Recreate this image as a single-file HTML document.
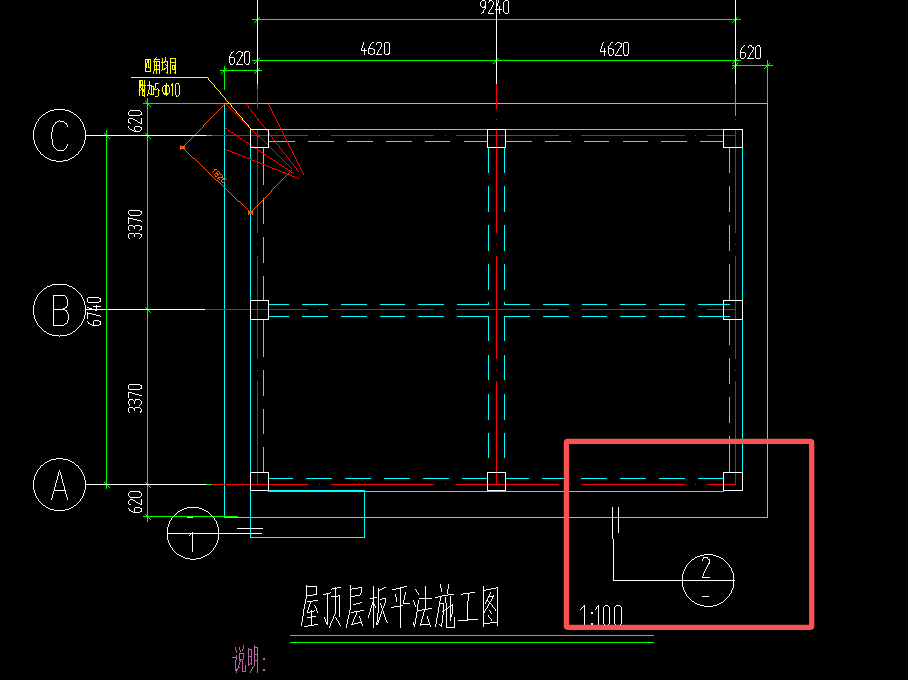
<!DOCTYPE html>
<html><head><meta charset="utf-8"><title>CAD</title>
<style>
html,body{margin:0;padding:0;background:#000;overflow:hidden;font-family:"Liberation Sans",sans-serif}
svg{display:block}
</style></head><body>
<svg width="908" height="680" viewBox="0 0 908 680">
<rect width="908" height="680" fill="#000"/>
<g fill="none" stroke-width="1" shape-rendering="crispEdges" stroke-linecap="butt">
<path d="M224 103.5L768 103.5" stroke="#00ffff"/>
<path d="M224.5 103L224.5 517" stroke="#00ffff"/>
<path d="M767.5 103L767.5 518" stroke="#00ffff"/>
<path d="M224 517.5L768 517.5" stroke="#00ffff"/>
<path d="M268 129.5L723 129.5" stroke="#00ffff"/>
<path d="M250.5 147L250.5 538" stroke="#00ffff"/>
<path d="M742.5 147L742.5 472" stroke="#00ffff"/>
<path d="M268 491.5L724 491.5" stroke="#00ffff"/>
<path d="M250 490.5L365 490.5" stroke="#00ffff"/>
<path d="M364.5 490L364.5 538" stroke="#00ffff"/>
<path d="M250 537.5L365 537.5" stroke="#00ffff"/>
<path d="M269 141.5H294.8M307.9 141.5H333.7M346.8 141.5H372.6M385.7 141.5H411.5M424.6 141.5H450.4M463.5 141.5H487.5M505.8 141.5H531.6M544.7 141.5H570.5M583.6 141.5H609.4M622.5 141.5H648.3M661.4 141.5H687.2M700.3 141.5H723.4" stroke="#00ffff"/>
<path d="M269 478.5H293.3M306.4 478.5H332.2M345.3 478.5H371.1M384.2 478.5H410M423.1 478.5H448.9M462 478.5H487.5M505.9 478.5H529.3M542.4 478.5H568.2M581.3 478.5H607.1M620.2 478.5H646M659.1 478.5H684.9M698 478.5H723.8" stroke="#00ffff"/>
<path d="M268.7 304.5H288.5M302.4 304.5H327.9M341 304.5H366.6M379.7 304.5H405.3M418.3 304.5H443.9M456.9 304.5H488.6M504.4 304.5H530M542.9 304.5H568.5M581.5 304.5H607.1M620.1 304.5H645.7M658.8 304.5H685M698 304.5H729.5" stroke="#00ffff"/>
<path d="M268.7 316.5H288.5M302.4 316.5H327.9M341 316.5H366.6M379.7 316.5H405.3M418.3 316.5H443.9M456.9 316.5H488.6M504.4 316.5H530M542.9 316.5H568.5M581.5 316.5H607.1M620.1 316.5H645.7M658.8 316.5H685M698 316.5H729.5" stroke="#00ffff"/>
<path d="M263.5 147.5V184.6M263.5 197.8V224.2M263.5 236.6V263.1M263.5 276.4V300.5" stroke="#00ffff"/>
<path d="M263.5 319.6V357M263.5 369.6V395.8M263.5 408.6V434.4M263.5 447V472" stroke="#00ffff"/>
<path d="M729.5 147.4V172.9M729.5 186.2V212M729.5 225V250.9M729.5 264.1V300.5" stroke="#00ffff"/>
<path d="M729.5 319.6V344.9M729.5 358V384M729.5 397.2V423.1M729.5 435.7V472" stroke="#00ffff"/>
<path d="M488.5 147.5V172.6M488.5 185.8V211.5M488.5 225V250.6M488.5 263.7V289.8M488.5 302V304.5M488.5 316.5V341.4M488.5 354.7V380.4M488.5 393.8V419.5M488.5 432.9V458" stroke="#00ffff"/>
<path d="M504.5 147.5V172.6M504.5 185.8V211.5M504.5 225V250.6M504.5 263.7V289.8M504.5 302V304.5M504.5 316.5V341.4M504.5 354.7V380.4M504.5 393.8V419.5M504.5 432.9V458" stroke="#00ffff"/>
<path d="M211.5 135.5H308M330.5 135.5H434M456 135.5H559M581.3 135.5H685M706.5 135.5H735.5" stroke="#ff0000"/>
<rect x="319" y="135" width="1" height="1" fill="#ff0000" stroke="none"/>
<rect x="445" y="135" width="1" height="1" fill="#ff0000" stroke="none"/>
<rect x="570" y="135" width="1" height="1" fill="#ff0000" stroke="none"/>
<rect x="695" y="135" width="1" height="1" fill="#ff0000" stroke="none"/>
<path d="M205 309.5H308M330.5 309.5H434M456 309.5H559M581.3 309.5H685M706.5 309.5H735.5" stroke="#ff0000"/>
<rect x="319" y="309" width="1" height="1" fill="#ff0000" stroke="none"/>
<rect x="445" y="309" width="1" height="1" fill="#ff0000" stroke="none"/>
<rect x="570" y="309" width="1" height="1" fill="#ff0000" stroke="none"/>
<rect x="695" y="309" width="1" height="1" fill="#ff0000" stroke="none"/>
<path d="M211.7 484.5H308M330.5 484.5H434M456 484.5H559M581.3 484.5H685M706.5 484.5H735.5" stroke="#ff0000"/>
<rect x="319" y="484" width="1" height="1" fill="#ff0000" stroke="none"/>
<rect x="445" y="484" width="1" height="1" fill="#ff0000" stroke="none"/>
<rect x="570" y="484" width="1" height="1" fill="#ff0000" stroke="none"/>
<rect x="695" y="484" width="1" height="1" fill="#ff0000" stroke="none"/>
<path d="M257.5 89V108.6M257.5 130V233M257.5 255.8V358.9M257.5 381.3V484.6" stroke="#ff0000"/>
<rect x="257" y="119" width="1" height="1" fill="#ff0000" stroke="none"/>
<rect x="257" y="244" width="1" height="1" fill="#ff0000" stroke="none"/>
<rect x="257" y="370" width="1" height="1" fill="#ff0000" stroke="none"/>
<path d="M496.5 84V108.6M496.5 130V233M496.5 255.8V358.9M496.5 381.3V484.6" stroke="#ff0000"/>
<rect x="496" y="119" width="1" height="1" fill="#ff0000" stroke="none"/>
<rect x="496" y="244" width="1" height="1" fill="#ff0000" stroke="none"/>
<rect x="496" y="370" width="1" height="1" fill="#ff0000" stroke="none"/>
<path d="M735.5 129.5V233M735.5 255.8V358.9M735.5 381.3V484.6" stroke="#ff0000"/>
<rect x="735" y="119" width="1" height="1" fill="#ff0000" stroke="none"/>
<rect x="735" y="244" width="1" height="1" fill="#ff0000" stroke="none"/>
<rect x="735" y="370" width="1" height="1" fill="#ff0000" stroke="none"/>
<path d="M226 104.5h1M227 105.5h1M228 106.5h1M229 107.5h1M230 108.5h1M231 109.5h1M232 110.5h1M233 111.5h1M234 112.5h1M235 113.5h1M236 114.5h1M237 115.5h1M238 116.5h1M239 117.5h1M240 118.5h1M241 119.5h1M242 120.5h1M243 121.5h1M244 122.5h1M245 123.5h1M246 124.5h1M247 125.5h1M248 126.5h1M249 127.5h1M250 128.5h1M251 129.5h1M252 130.5h1M253 131.5h1M254 132.5h1M255 133.5h1M256 134.5h1M257 135.5h1M258 136.5h2M260 137.5h1M261 138.5h1M262 139.5h1M263 140.5h1M264 141.5h1M265 142.5h1M266 143.5h1M267 144.5h1M268 145.5h1M269 146.5h1M270 147.5h1M271 148.5h1M272 149.5h1M273 150.5h1M274 151.5h1M275 152.5h1M276 153.5h1M277 154.5h1M278 155.5h1M279 156.5h1M280 157.5h1M281 158.5h1M282 159.5h1M283 160.5h1M284 161.5h1M285 162.5h1M286 163.5h1M287 164.5h1M288 165.5h1M289 166.5h1M290 167.5h1M291 168.5h1" stroke="#ff0000"/>
<path d="M246.5 104v1M247.5 105v1M248.5 106v2M249.5 108v1M250.5 109v1M251.5 110v2M252.5 112v1M253.5 113v1M254.5 114v1M255.5 115v2M256.5 117v1M257.5 118v1M258.5 119v2M259.5 121v1M260.5 122v1M261.5 123v1M262.5 124v2M263.5 126v1M264.5 127v1M265.5 128v2M266.5 130v1M267.5 131v1M268.5 132v1M269.5 133v2M270.5 135v1M271.5 136v1M272.5 137v2M273.5 139v1M274.5 140v1M275.5 141v2M276.5 143v1M277.5 144v1M278.5 145v1M279.5 146v2M280.5 148v1M281.5 149v1M282.5 150v2M283.5 152v1M284.5 153v1M285.5 154v1M286.5 155v2M287.5 157v1M288.5 158v1M289.5 159v2M290.5 161v1M291.5 162v1M292.5 163v1M293.5 164v2M294.5 166v1M295.5 167v1M296.5 168v2M297.5 170v1M298.5 171v1" stroke="#ff0000"/>
<path d="M268.5 104v1M269.5 105v2M270.5 107v2M271.5 109v2M272.5 111v2M273.5 113v2M274.5 115v2M275.5 117v2M276.5 119v2M277.5 121v2M278.5 123v2M279.5 125v2M280.5 127v2M281.5 129v2M282.5 131v2M283.5 133v2M284.5 135v2M285.5 137v2M286.5 139v2M287.5 141v2M288.5 143v2M289.5 145v2M290.5 147v2M291.5 149v2M292.5 151v2M293.5 153v2M294.5 155v2M295.5 157v2M296.5 159v2M297.5 161v2M298.5 163v2M299.5 165v2M300.5 167v2M301.5 169v2M302.5 171v2M303.5 173v2" stroke="#ff0000"/>
<path d="M225 128.5h2M227 129.5h1M228 130.5h2M230 131.5h1M231 132.5h2M233 133.5h1M234 134.5h2M236 135.5h1M237 136.5h2M239 137.5h1M240 138.5h2M242 139.5h1M243 140.5h2M245 141.5h1M246 142.5h2M248 143.5h1M249 144.5h2M251 145.5h1M252 146.5h2M254 147.5h1M255 148.5h2M257 149.5h1M258 150.5h2M260 151.5h1M261 152.5h2M263 153.5h1M264 154.5h2M266 155.5h1M267 156.5h2M269 157.5h1M270 158.5h2M272 159.5h1M273 160.5h2M275 161.5h1M276 162.5h2M278 163.5h1M279 164.5h2M281 165.5h1M282 166.5h2M284 167.5h1M285 168.5h2M287 169.5h1M288 170.5h2M290 171.5h1M291 172.5h2M293 173.5h1" stroke="#ff0000"/>
<path d="M225 149.5h2M227 150.5h3M230 151.5h2M232 152.5h3M235 153.5h2M237 154.5h3M240 155.5h2M242 156.5h3M245 157.5h2M247 158.5h3M250 159.5h2M252 160.5h3M255 161.5h2M257 162.5h3M260 163.5h2M262 164.5h3M265 165.5h2M267 166.5h3M270 167.5h2M272 168.5h3M275 169.5h2M277 170.5h3M280 171.5h2M282 172.5h3M285 173.5h2M287 174.5h3M290 175.5h2M292 176.5h3M295 177.5h2M297 178.5h2" stroke="#ff0000"/>
<path d="M224.5 104v1M223.5 105v1M222.5 106v1M221.5 107v1M220.5 108v1M219.5 109v1M218.5 110v1M217.5 111v1M216.5 112v1M215.5 113v1M214.5 114v1M213.5 115v1M212.5 116v1M211.5 117v1M210.5 118v1M209.5 119v1M208.5 120v1M207.5 121v1M206.5 122v1M205.5 123v1M204.5 124v1M203.5 125v2M202.5 127v1M201.5 128v1M200.5 129v1M199.5 130v1M198.5 131v1M197.5 132v1M196.5 133v1M195.5 134v1M194.5 135v1M193.5 136v1M192.5 137v1M191.5 138v1M190.5 139v1M189.5 140v1M188.5 141v1M187.5 142v1M186.5 143v1M185.5 144v1M184.5 145v1M183.5 146v1M182.5 147v1M182 147.5h1M183 148.5h1M184 149.5h1M185 150.5h1M186 151.5h1M187 152.5h1M188 153.5h1M189 154.5h1M190 155.5h1M191 156.5h1M192 157.5h1M193 158.5h2M195 159.5h1M196 160.5h1M197 161.5h1M198 162.5h1M199 163.5h1M200 164.5h1M201 165.5h1M202 166.5h1M203 167.5h1M204 168.5h1M205 169.5h1M206 170.5h1M207 171.5h1M208 172.5h1M209 173.5h1M210 174.5h1M211 175.5h1M212 176.5h1M213 177.5h1M214 178.5h1M215 179.5h1M216 180.5h2M218 181.5h1M219 182.5h1M220 183.5h1M221 184.5h1M222 185.5h1M223 186.5h1M224 187.5h1M225 188.5h1M226 189.5h1M227 190.5h1M228 191.5h1M229 192.5h1M230 193.5h1M231 194.5h1M232 195.5h1M233 196.5h1M234 197.5h1M235 198.5h1M236 199.5h1M237 200.5h1M238 201.5h2M240 202.5h1M241 203.5h1M242 204.5h1M243 205.5h1M244 206.5h1M245 207.5h1M246 208.5h1M247 209.5h1M248 210.5h1M249 211.5h1M250 212.5h1M291.5 170v1M290.5 171v1M289.5 172v1M288.5 173v1M287.5 174v1M286.5 175v1M285.5 176v1M284.5 177v1M283.5 178v1M282.5 179v1M281.5 180v1M280.5 181v1M279.5 182v1M278.5 183v1M277.5 184v1M276.5 185v1M275.5 186v1M274.5 187v1M273.5 188v1M272.5 189v1M271.5 190v2M270.5 192v1M269.5 193v1M268.5 194v1M267.5 195v1M266.5 196v1M265.5 197v1M264.5 198v1M263.5 199v1M262.5 200v1M261.5 201v1M260.5 202v1M259.5 203v1M258.5 204v1M257.5 205v1M256.5 206v1M255.5 207v1M254.5 208v1M253.5 209v1M252.5 210v1M251.5 211v1M250.5 212v1" stroke="#f55a00"/>
<path d="M180 146h5v3h-5zM180 145h1v5h-1zM184 145h1v5h-1z" fill="#f55a00" stroke="none"/>
<path d="M248 211h5v3h-5zM248 210h1v5h-1zM252 210h1v5h-1z" fill="#f55a00" stroke="none"/>
<path d="M214 169.5h3M212 172.5h1M213 171.5h1M214 170.5h1M215 169.5h2M218 171.5h1M219 172.5h1M219.5 172v2M218 174.5h1M219 173.5h1M217 174.5h2M217 173.5h1M216.5 172v1M217.5 173v1M216 172.5h1M217 171.5h1M217 171.5h2M215 173.5h3M215.5 173v1M214.5 174v1M215.5 175v1M215.5 175v2M215 176.5h2M216 176.5h1M217 175.5h1M217.5 174v2M220 174.5h2M221.5 174v1M222.5 175v1M222.5 175v2M222.5 176v2M217 178.5h1M218 177.5h5M217 178.5h2M219 179.5h1M224.5 177v1M225.5 178v1M226.5 179v1M222 179.5h1M223 178.5h1M224 177.5h1M222 179.5h2M223.5 179v1M224.5 180v1M224.5 180v2M223 182.5h1M224 181.5h1M222 182.5h2M221 181.5h1M222 182.5h1M221.5 180v2" stroke="#f55a00"/>
<path d="M131 77.5h77M207.5 77v1M208.5 78v2M209.5 80v1M210.5 81v1M211.5 82v1M212.5 83v1M213.5 84v1M214.5 85v2M215.5 87v1M216.5 88v1M217.5 89v1M218.5 90v1M219.5 91v1M220.5 92v2M221.5 94v1M222.5 95v1M223.5 96v1M224.5 97v1M225.5 98v2M226.5 100v1M227.5 101v1M228.5 102v1M229.5 103v1M230.5 104v1M231.5 105v2M232.5 107v1M233.5 108v1M234.5 109v1M235.5 110v1M236.5 111v2M237.5 113v1M238.5 114v1M239.5 115v1M240.5 116v1M241.5 117v1M242.5 118v2M243.5 120v1M244.5 121v1M245.5 122v1M246.5 123v1M247.5 124v1M248.5 125v2M249.5 127v1M250.5 128v1" stroke="#ffff00"/>
<path d="M251.5 19.5L741 19.5" stroke="#00ff00"/>
<path d="M252 60.5L741 60.5" stroke="#00ff00"/>
<path d="M219.5 70.5L262 70.5" stroke="#00ff00"/>
<path d="M731.5 65.5L773 65.5" stroke="#00ff00"/>
<path d="M224.5 65.5L224.5 90" stroke="#00ff00"/>
<path d="M767.5 59.5L767.5 103" stroke="#00ff00"/>
<path d="M257.5 84L257.5 89" stroke="#00ff00"/>
<path d="M735.5 84L735.5 116" stroke="#00ff00"/>
<path d="M143 103.5L224 103.5" stroke="#00ff00"/>
<path d="M147.5 98L147.5 522" stroke="#00ff00"/>
<path d="M106.5 130L106.5 489" stroke="#00ff00"/>
<path d="M143 516.5L238 516.5" stroke="#00ff00"/>
<path d="M206 135.5H211.5" stroke="#00ff00"/>
<path d="M206 484.5H211.7" stroke="#00ff00"/>
<path d="M254 22.5h1M255 21.5h1M256 20.5h1M257 19.5h1M258 18.5h1M259 17.5h1" stroke="#00ff00"/>
<path d="M732 22.5h1M733 21.5h1M734 20.5h1M735 19.5h1M736 18.5h1M737 17.5h1" stroke="#00ff00"/>
<path d="M254 63.5h1M255 62.5h1M256 61.5h1M257 60.5h1M258 59.5h1M259 58.5h1" stroke="#00ff00"/>
<path d="M493 63.5h1M494 62.5h1M495 61.5h1M496 60.5h1M497 59.5h1M498 58.5h1" stroke="#00ff00"/>
<path d="M732 63.5h1M733 62.5h1M734 61.5h1M735 60.5h1M736 59.5h1M737 58.5h1" stroke="#00ff00"/>
<path d="M221 73.5h1M222 72.5h1M223 71.5h1M224 70.5h1M225 69.5h1M226 68.5h1" stroke="#00ff00"/>
<path d="M254 73.5h1M255 72.5h1M256 71.5h1M257 70.5h1M258 69.5h1M259 68.5h1" stroke="#00ff00"/>
<path d="M732 68.5h1M733 67.5h1M734 66.5h1M735 65.5h1M736 64.5h1M737 63.5h1" stroke="#00ff00"/>
<path d="M764 68.5h1M765 67.5h1M766 66.5h1M767 65.5h1M768 64.5h1M769 63.5h1" stroke="#00ff00"/>
<path d="M145 101.5h1M146 102.5h1M147 103.5h1M148 104.5h1M149 105.5h1M150 106.5h1" stroke="#00ff00"/>
<path d="M145 133.5h1M146 134.5h1M147 135.5h1M148 136.5h1M149 137.5h1M150 138.5h1" stroke="#00ff00"/>
<path d="M145 307.5h1M146 308.5h1M147 309.5h1M148 310.5h1M149 311.5h1M150 312.5h1" stroke="#00ff00"/>
<path d="M145 482.5h1M146 483.5h1M147 484.5h1M148 485.5h1M149 486.5h1M150 487.5h1" stroke="#00ff00"/>
<path d="M145 514.5h1M146 515.5h1M147 516.5h1M148 517.5h1M149 518.5h1M150 519.5h1" stroke="#00ff00"/>
<path d="M104 133.5h1M105 134.5h1M106 135.5h1M107 136.5h1M108 137.5h1M109 138.5h1" stroke="#00ff00"/>
<path d="M104 482.5h1M105 483.5h1M106 484.5h1M107 485.5h1M108 486.5h1M109 487.5h1" stroke="#00ff00"/>
<path d="M257.5 0L257.5 84" stroke="#ffffff"/>
<path d="M496.5 0L496.5 84" stroke="#ffffff"/>
<path d="M735.5 0L735.5 84" stroke="#ffffff"/>
<path d="M86 135.5L206 135.5" stroke="#ffffff"/>
<path d="M86 309.5L205 309.5" stroke="#ffffff"/>
<path d="M86 484.5L206 484.5" stroke="#ffffff"/>
<rect x="250.5" y="129.5" width="18" height="18" stroke="#ffffff"/>
<rect x="250.5" y="300.5" width="18" height="19" stroke="#ffffff"/>
<rect x="250.5" y="472.5" width="18" height="18" stroke="#ffffff"/>
<rect x="487.5" y="129.5" width="18" height="18" stroke="#ffffff"/>
<rect x="487.5" y="472.5" width="18" height="18" stroke="#ffffff"/>
<rect x="723.5" y="129.5" width="19" height="18" stroke="#ffffff"/>
<rect x="723.5" y="300.5" width="19" height="19" stroke="#ffffff"/>
<rect x="723.5" y="472.5" width="19" height="18" stroke="#ffffff"/>
<path d="M38 120.5h1M80 120.5h1M37 149.5h1M81 149.5h1M34 129.5h1M84 129.5h1M46 112.5h2M71 112.5h2M51 160.5h5M63 160.5h5M41 154.5h2M76 154.5h2M33 137.5h1M85 137.5h1M49 159.5h2M68 159.5h2M35 145.5h1M83 145.5h1M54 109.5h11M34 141.5h1M84 141.5h1M45 157.5h2M72 157.5h2M34 140.5h1M84 140.5h1M35 124.5h1M83 124.5h1M36 146.5h1M82 146.5h1M48 111.5h2M69 111.5h2M33 130.5h1M85 130.5h1M36 122.5h1M82 122.5h1M33 139.5h1M85 139.5h1M38 119.5h1M80 119.5h1M56 161.5h7M34 143.5h1M84 143.5h1M43 114.5h2M74 114.5h2M50 110.5h4M65 110.5h4M35 126.5h1M83 126.5h1M34 142.5h1M84 142.5h1M33 132.5h1M85 132.5h1M35 144.5h1M83 144.5h1M34 127.5h1M84 127.5h1M36 123.5h1M82 123.5h1M33 134.5h1M85 134.5h1M37 121.5h1M81 121.5h1M33 136.5h1M85 136.5h1M43 155.5h1M75 155.5h1M39 151.5h1M79 151.5h1M37 148.5h1M81 148.5h1M34 128.5h1M84 128.5h1M36 147.5h1M82 147.5h1M42 115.5h1M76 115.5h1M40 152.5h1M78 152.5h1M33 138.5h1M85 138.5h1M44 156.5h1M74 156.5h1M47 158.5h2M70 158.5h2M33 131.5h1M85 131.5h1M40 117.5h1M78 117.5h1M35 125.5h1M83 125.5h1M33 133.5h1M85 133.5h1M38 150.5h1M80 150.5h1M33 135.5h1M85 135.5h1M41 116.5h1M77 116.5h1M40 153.5h1M78 153.5h1M39 118.5h1M79 118.5h1M45 113.5h1M73 113.5h1" stroke="#ffffff"/>
<path d="M43 330.5h1M75 330.5h1M37 296.5h1M81 296.5h1M38 294.5h1M80 294.5h1M38 325.5h1M80 325.5h1M43 289.5h1M75 289.5h1M49 334.5h3M67 334.5h3M37 295.5h1M81 295.5h1M33 310.5h1M85 310.5h1M52 284.5h15M41 291.5h1M77 291.5h1M36 321.5h1M82 321.5h1M52 335.5h7M60 335.5h7M34 315.5h1M84 315.5h1M35 300.5h1M83 300.5h1M33 312.5h1M85 312.5h1M33 313.5h1M85 313.5h1M44 331.5h2M73 331.5h2M40 292.5h1M78 292.5h1M50 285.5h2M67 285.5h2M34 317.5h1M84 317.5h1M42 290.5h1M76 290.5h1M34 316.5h1M84 316.5h1M39 293.5h1M79 293.5h1M46 287.5h1M72 287.5h1M33 305.5h1M85 305.5h1M33 306.5h1M85 306.5h1M36 322.5h1M82 322.5h1M47 333.5h2M70 333.5h2M36 298.5h1M82 298.5h1M44 288.5h2M73 288.5h2M34 301.5h1M84 301.5h1M36 297.5h1M82 297.5h1M34 318.5h1M84 318.5h1M33 307.5h1M85 307.5h1M33 308.5h1M85 308.5h1M37 323.5h1M81 323.5h1M35 320.5h1M83 320.5h1M34 303.5h1M84 303.5h1M34 302.5h1M84 302.5h1M47 286.5h3M69 286.5h3M37 324.5h1M81 324.5h1M34 304.5h1M84 304.5h1M33 314.5h1M85 314.5h1M46 332.5h1M72 332.5h1M35 299.5h1M83 299.5h1M35 319.5h1M83 319.5h1M33 309.5h1M85 309.5h1M33 311.5h1M85 311.5h1M39 326.5h1M79 326.5h1M41 328.5h1M77 328.5h1M40 327.5h1M78 327.5h1M42 329.5h1M76 329.5h1M59 336.5h1" stroke="#ffffff"/>
<path d="M37 470.5h1M81 470.5h1M34 492.5h1M84 492.5h1M48 508.5h2M69 508.5h2M33 482.5h1M85 482.5h1M35 494.5h1M83 494.5h1M33 484.5h1M85 484.5h1M51 459.5h5M63 459.5h5M56 458.5h7M50 509.5h4M65 509.5h4M54 510.5h11M34 477.5h1M84 477.5h1M34 476.5h1M84 476.5h1M36 473.5h1M82 473.5h1M35 474.5h1M83 474.5h1M37 471.5h1M81 471.5h1M33 486.5h1M85 486.5h1M43 505.5h2M74 505.5h2M39 501.5h1M79 501.5h1M37 498.5h1M81 498.5h1M34 478.5h1M84 478.5h1M36 497.5h1M82 497.5h1M46 507.5h2M71 507.5h2M34 491.5h1M84 491.5h1M41 465.5h2M76 465.5h2M41 503.5h1M77 503.5h1M40 502.5h1M78 502.5h1M38 499.5h1M80 499.5h1M36 496.5h1M82 496.5h1M33 488.5h1M85 488.5h1M36 472.5h1M82 472.5h1M45 462.5h2M72 462.5h2M47 461.5h2M70 461.5h2M42 504.5h1M76 504.5h1M43 464.5h1M75 464.5h1M44 463.5h1M74 463.5h1M33 481.5h1M85 481.5h1M35 475.5h1M83 475.5h1M33 483.5h1M85 483.5h1M49 460.5h2M68 460.5h2M34 479.5h1M84 479.5h1M38 469.5h1M80 469.5h1M38 500.5h1M80 500.5h1M33 485.5h1M85 485.5h1M34 490.5h1M84 490.5h1M33 487.5h1M85 487.5h1M40 467.5h1M78 467.5h1M39 468.5h1M79 468.5h1M33 480.5h1M85 480.5h1M35 493.5h1M83 493.5h1M35 495.5h1M83 495.5h1M45 506.5h1M73 506.5h1M33 489.5h1M85 489.5h1M40 466.5h1M78 466.5h1" stroke="#ffffff"/>
<path d="M66.5 123v2M67.5 125v2M63 121.5h1M64 122.5h1M65 123.5h2M59 120.5h1M60 121.5h4M56 122.5h1M57 121.5h2M55.5 122v2M54.5 124v1M53.5 125v1M53.5 125v2M52.5 127v4M52.5 130v2M51.5 132v4M51.5 135v4M52.5 139v3M52.5 141v4M53.5 145v2M53.5 146v1M54.5 147v1M55.5 148v1M56.5 149v1M56 149.5h1M57 150.5h3M59 150.5h5M63 150.5h1M64 149.5h1M65 148.5h1M66 147.5h1M67.5 144v2M66.5 146v2" stroke="#ffffff"/>
<path d="M53.5 295v31M53 325.5h10M62 325.5h2M64 324.5h1M65 323.5h2M68.5 319v1M67.5 320v3M68.5 314v6M66.5 311v1M67.5 312v2M68.5 314v1M62 309.5h3M65 310.5h2M53 309.5h10M62 309.5h1M63 308.5h2M65 307.5h2M67.5 304v2M66.5 306v2M67.5 299v6M65.5 296v1M66.5 297v2M67.5 299v1M62 295.5h3M65 296.5h1M53 295.5h10" stroke="#ffffff"/>
<path d="M59.5 470v2M58.5 472v4M57.5 476v4M56.5 480v3M55.5 483v4M54.5 487v4M53.5 491v3M52.5 494v4M51.5 498v2M60.5 472v3M61.5 475v4M62.5 479v4M63.5 483v3M64.5 486v4M65.5 490v4M66.5 494v3M67.5 497v3M54 490.5h12" stroke="#ffffff"/>
<path d="M177 554.5h2M207 554.5h2M174 551.5h1M211 551.5h1M174 515.5h1M211 515.5h1M179 555.5h2M205 555.5h2M167 530.5h1M218 530.5h1M178 511.5h2M206 511.5h2M181 556.5h2M203 556.5h2M169 523.5h1M216 523.5h1M167 539.5h1M218 539.5h1M173 516.5h1M212 516.5h1M180 510.5h2M204 510.5h2M167 529.5h1M218 529.5h1M182 509.5h2M202 509.5h2M167 538.5h1M218 538.5h1M168 540.5h1M217 540.5h1M171 518.5h1M214 518.5h1M184 508.5h3M199 508.5h3M175 552.5h1M210 552.5h1M167 532.5h1M218 532.5h1M177 512.5h1M208 512.5h1M176 553.5h1M209 553.5h1M172 517.5h1M213 517.5h1M167 531.5h1M218 531.5h1M170 546.5h1M215 546.5h1M187 507.5h12M168 542.5h1M217 542.5h1M169 543.5h1M216 543.5h1M176 513.5h1M209 513.5h1M190 559.5h6M169 522.5h1M216 522.5h1M167 534.5h1M218 534.5h1M185 558.5h5M196 558.5h5M167 533.5h1M218 533.5h1M168 541.5h1M217 541.5h1M173 550.5h1M212 550.5h1M171 547.5h1M214 547.5h1M172 549.5h1M213 549.5h1M167 527.5h1M218 527.5h1M167 536.5h1M218 536.5h1M167 535.5h1M218 535.5h1M168 525.5h1M217 525.5h1M183 557.5h2M201 557.5h2M167 528.5h1M218 528.5h1M170 545.5h1M215 545.5h1M171 519.5h1M214 519.5h1M169 521.5h1M216 521.5h1M170 520.5h1M215 520.5h1M172 548.5h1M213 548.5h1M169 544.5h1M216 544.5h1M168 524.5h1M217 524.5h1M167 537.5h1M218 537.5h1M175 514.5h1M210 514.5h1M168 526.5h1M217 526.5h1" stroke="#ffffff"/>
<path d="M167 533.5L262 533.5" stroke="#ffffff"/>
<path d="M237 528.5L263 528.5" stroke="#ffffff"/>
<path d="M192.5 532v1M191.5 533v1M190.5 534v1M189.5 535v1M192.5 532v20" stroke="#ffffff"/>
<path d="M187 517.5L193 517.5" stroke="#ffffff"/>
<path d="M692 601.5h2M723 601.5h1M690 599.5h1M725 599.5h1M686 595.5h1M729 595.5h1M704 554.5h9M700 605.5h4M713 605.5h4M697 604.5h3M717 604.5h2M682 582.5h1M733 582.5h1M692 559.5h2M723 559.5h1M694 558.5h1M721 558.5h2M704 606.5h9M695 603.5h2M719 603.5h2M683 587.5h1M733 587.5h1M684 569.5h1M731 569.5h1M690 561.5h1M725 561.5h1M695 557.5h2M719 557.5h2M684 591.5h1M731 591.5h1M682 575.5h1M733 575.5h1M700 555.5h4M713 555.5h3M682 584.5h1M733 584.5h1M697 556.5h3M716 556.5h3M685 567.5h1M730 567.5h1M682 577.5h1M733 577.5h1M682 586.5h1M733 586.5h1M686 565.5h1M729 565.5h1M683 571.5h1M732 571.5h1M686 566.5h1M729 566.5h1M682 579.5h1M733 579.5h1M691 600.5h1M724 600.5h1M684 570.5h1M731 570.5h1M687 596.5h1M728 596.5h1M691 560.5h1M724 560.5h1M682 581.5h1M733 581.5h1M694 602.5h1M721 602.5h2M685 592.5h1M731 592.5h1M685 568.5h1M731 568.5h1M688 563.5h1M727 563.5h1M689 562.5h1M726 562.5h1M682 574.5h1M733 574.5h1M689 598.5h1M726 598.5h1M687 564.5h1M728 564.5h1M682 576.5h1M733 576.5h1M683 589.5h1M732 589.5h1M682 580.5h1M734 580.5h1M686 594.5h1M729 594.5h1M688 597.5h1M727 597.5h1M682 583.5h1M733 583.5h1M683 573.5h1M733 573.5h1M684 590.5h1M731 590.5h1M682 585.5h1M733 585.5h1M682 578.5h1M733 578.5h1M685 593.5h1M730 593.5h1M683 588.5h1M732 588.5h1M683 572.5h1M732 572.5h1" stroke="#ffffff"/>
<path d="M613 580.5L735 580.5" stroke="#ffffff"/>
<path d="M612.5 507L612.5 539" stroke="#ffffff"/>
<path d="M613.5 539L613.5 581" stroke="#ffffff"/>
<path d="M618.5 507L618.5 533" stroke="#ffffff"/>
<path d="M703.5 557v2M702.5 559v2M704 557.5h3M707.5 557v2M708.5 559v1M709.5 559v5M708.5 563v2M707.5 565v2M706.5 567v2M705.5 569v2M704.5 571v2M703.5 573v3M702.5 576v2M702 577.5h8" stroke="#ffffff"/>
<path d="M702 596.5L709 596.5" stroke="#ffffff"/>
<path d="M580 609.5h1M581 608.5h1M582 607.5h1M583 606.5h1M584 605.5h1M584.5 605v22M598.5 605v1M597.5 606v1M596.5 607v2M595.5 609v1M598.5 605v22" stroke="#ffffff"/>
<path d="M605 605.5h3M607.5 605v1M608.5 606v1M609.5 607v1M609.5 607v17M609.5 623v1M608.5 624v2M605 625.5h3M603.5 623v1M604.5 624v1M605.5 625v1M603.5 607v17M605.5 605v1M604.5 606v1M603.5 607v1M616 605.5h4M619.5 605v1M620.5 606v1M621.5 607v1M621.5 607v17M621.5 623v1M620.5 624v1M619.5 625v1M616 625.5h4M614.5 623v1M615.5 624v1M616.5 625v1M614.5 607v17M616.5 605v1M615.5 606v1M614.5 607v1" stroke="#ffffff"/>
<rect x="591" y="612" width="2" height="2" fill="#ffffff" stroke="none"/>
<rect x="591" y="623" width="2" height="2" fill="#ffffff" stroke="none"/>
<path d="M484 6.5h1M485 5.5h1M482 7.5h3M480 5.5h1M481 6.5h1M482 7.5h1M480.5 2v4M482.5 0v1M481.5 1v1M480.5 2v1M482 0.5h3M484.5 0v1M485.5 1v2M485.5 2v4M485.5 5v4M485.5 8v1M484.5 9v1M483.5 10v3M481 13.5h1M482 12.5h2M489.5 0v2M488.5 2v1M489 0.5h3M491.5 0v1M492.5 1v1M493.5 2v1M493.5 2v3M493.5 4v1M492.5 5v2M491.5 7v2M490.5 9v1M489.5 10v2M488.5 12v2M488 13.5h6M498.5 0v3M497.5 3v3M496.5 6v3M495.5 9v1M495 9.5h7M499.5 6v8M505 0.5h3M507.5 0v1M508.5 1v2M508.5 2v10M508.5 11v2M507.5 13v1M505 13.5h3M503.5 11v1M504.5 12v1M505.5 13v1M503.5 2v10M505.5 0v1M504.5 1v1M503.5 2v1" stroke="#ffffff"/>
<path d="M363.5 42v3M362.5 45v3M361.5 48v3M361 50.5h6M364.5 48v7M371 43.5h1M372 42.5h2M371.5 43v1M370.5 44v2M369.5 46v2M369.5 47v1M368.5 48v2M368.5 49v5M369.5 53v1M370.5 54v1M370 54.5h3M373.5 53v1M372.5 54v1M374.5 49v5M372 48.5h1M373 49.5h2M370 48.5h3M368 49.5h1M369 48.5h2M377.5 42v1M376.5 43v2M377 42.5h4M380.5 42v1M381.5 43v1M381.5 43v3M381.5 45v2M380.5 47v2M379.5 49v1M378.5 50v2M377.5 52v2M376.5 54v1M376 54.5h6M385 42.5h3M388.5 42v1M389.5 43v1M389.5 43v11M388.5 53v2M385 54.5h3M384.5 53v1M385.5 54v1M384.5 43v11M385.5 42v1M384.5 43v1" stroke="#ffffff"/>
<path d="M603.5 42v1M602.5 43v3M601.5 46v3M600.5 49v3M600 51.5h6M604.5 48v8M610 43.5h1M611 42.5h2M610.5 43v2M609.5 45v1M608.5 46v2M608.5 47v3M608.5 49v5M608.5 53v1M609.5 54v2M609 55.5h3M613.5 53v1M612.5 54v1M611.5 55v1M613.5 49v5M611 48.5h1M612 49.5h2M609 48.5h3M608 49.5h1M609 48.5h1M617.5 42v1M616.5 43v1M615.5 44v1M617 42.5h3M619.5 42v1M620.5 43v1M621.5 43v4M620.5 46v2M619.5 48v1M618.5 49v2M617.5 51v2M616.5 53v1M615.5 54v2M615 55.5h7M624 42.5h4M627.5 42v1M628.5 43v1M628.5 43v11M628.5 53v1M627.5 54v2M624 55.5h4M623.5 53v1M624.5 54v2M623.5 43v11M624.5 42v1M623.5 43v1" stroke="#ffffff"/>
<path d="M231 52.5h2M233 51.5h1M231.5 52v2M230.5 54v2M229.5 56v1M229.5 56v3M229.5 58v5M229.5 62v1M230.5 63v2M230 64.5h3M234.5 62v1M233.5 63v1M232.5 64v1M234.5 58v5M232 57.5h2M234 58.5h1M230 57.5h3M229 58.5h1M230 57.5h1M238.5 51v1M237.5 52v1M236.5 53v1M238 51.5h3M240.5 51v1M241.5 52v1M242.5 52v4M241.5 55v2M240.5 57v2M239.5 59v2M238.5 61v1M237.5 62v2M236.5 64v1M236 64.5h7M246 51.5h3M248.5 51v1M249.5 52v1M249.5 52v11M249.5 62v1M248.5 63v2M246 64.5h3M244.5 62v1M245.5 63v1M246.5 64v1M244.5 52v11M245.5 51v2" stroke="#ffffff"/>
<path d="M742 47.5h1M743 46.5h1M744 45.5h1M742.5 47v1M741.5 48v2M740.5 50v2M740.5 51v3M740.5 53v4M740.5 56v2M741.5 58v1M741 58.5h3M745.5 56v1M744.5 57v1M743.5 58v1M745.5 53v4M743 52.5h2M745 53.5h1M741 52.5h3M740 53.5h1M741 52.5h1M749.5 45v1M748.5 46v2M749 45.5h3M751.5 45v2M752.5 47v1M753.5 47v3M753.5 49v1M752.5 50v2M751.5 52v1M750.5 53v2M749.5 55v2M748.5 57v1M747.5 58v1M747 58.5h7M757 45.5h3M759.5 45v2M760.5 47v1M760.5 47v10M760.5 56v2M759.5 58v1M757 58.5h3M755.5 56v2M756.5 58v1M755.5 47v10M757.5 45v1M756.5 46v1M755.5 47v1" stroke="#ffffff"/>
<path d="M128.5 126v2M129.5 128v1M129 128.5h1M130 129.5h2M132 130.5h2M133 130.5h1M134 131.5h3M136 131.5h4M139 131.5h1M140 130.5h1M141 129.5h1M141.5 127v3M139 126.5h1M140 127.5h2M136 126.5h4M135.5 126v1M134.5 127v1M134.5 127v3M134.5 129v1M135.5 130v1M136.5 131v1M128 122.5h2M130 123.5h1M128.5 119v4M128 119.5h1M129 118.5h2M130 118.5h3M132 118.5h1M133 119.5h2M135 120.5h2M137 121.5h1M138 122.5h2M140 123.5h2M141.5 118v6M128.5 112v3M128 112.5h1M129 111.5h1M130 110.5h1M130 110.5h10M139 110.5h1M140 111.5h1M141 112.5h1M141.5 112v3M139 115.5h1M140 114.5h2M130 115.5h10M128 114.5h1M129 115.5h2" stroke="#ffffff"/>
<path d="M128.5 236v2M129.5 238v1M128.5 234v3M129.5 233v1M128.5 234v1M129 233.5h4M133.5 233v1M134.5 234v1M134.5 234v3M134 234.5h1M135 233.5h1M135 233.5h5M139.5 233v1M140.5 234v1M141.5 234v3M141.5 236v1M140.5 237v1M139.5 238v1M128.5 229v1M129.5 230v1M128.5 226v4M129.5 225v1M128.5 226v1M129 225.5h4M132.5 225v1M133.5 226v1M134.5 226v3M134 226.5h1M135 225.5h1M135 225.5h5M139.5 225v1M140.5 226v1M141.5 226v4M140.5 229v1M139.5 230v1M128.5 217v7M128 217.5h1M129 218.5h4M133 219.5h4M137 220.5h4M141 221.5h1M128.5 211v3M128 211.5h1M129 210.5h2M130 210.5h10M139 210.5h1M140 211.5h2M141.5 211v3M139 215.5h1M140 214.5h1M141 213.5h1M130 215.5h10M128 213.5h1M129 214.5h1M130 215.5h1" stroke="#ffffff"/>
<path d="M128.5 411v1M129.5 412v1M128.5 409v3M129.5 407v1M128.5 408v2M129 407.5h4M132.5 407v1M133.5 408v1M134.5 409v1M134.5 409v2M134 408.5h1M135 407.5h1M135 407.5h5M139.5 407v1M140.5 408v1M141.5 409v1M141.5 409v3M140.5 411v2M128.5 403v1M129.5 404v2M128.5 401v3M129.5 399v2M128.5 401v1M129 399.5h4M132.5 399v1M133.5 400v1M134.5 401v1M134.5 401v3M134 401.5h1M135 400.5h1M135 399.5h5M139.5 399v1M140.5 400v1M141.5 401v1M141.5 401v3M141.5 403v1M140.5 404v1M139.5 405v1M128.5 392v6M128 392.5h4M132 393.5h3M135 394.5h4M139 395.5h3M128.5 385v4M128 385.5h1M129 384.5h2M130 384.5h10M139 384.5h1M140 385.5h2M141.5 385v4M139 389.5h1M140 388.5h2M130 389.5h10M128 388.5h1M129 389.5h2" stroke="#ffffff"/>
<path d="M128.5 508v1M129.5 509v2M129 510.5h2M131 511.5h2M133 512.5h1M133 512.5h4M136 512.5h4M139 512.5h1M140 511.5h2M141.5 508v4M139 507.5h1M140 508.5h2M136 507.5h4M135.5 507v1M134.5 508v1M134.5 508v4M134.5 511v1M135.5 512v1M128 503.5h1M129 504.5h2M128.5 501v3M128 501.5h1M129 500.5h1M130 499.5h1M130 499.5h3M132 499.5h1M133 500.5h2M135 501.5h1M136 502.5h2M138 503.5h2M140 504.5h2M141.5 499v6M128.5 493v3M128 493.5h1M129 492.5h1M130 491.5h1M130 491.5h10M139 492.5h2M141 493.5h1M141.5 493v3M139 497.5h1M140 496.5h1M141 495.5h1M130 497.5h10M128 495.5h1M129 496.5h1M130 497.5h1" stroke="#ffffff"/>
<path d="M87.5 321v1M88.5 322v2M88 323.5h2M90 324.5h2M92 325.5h1M92 325.5h3M94 325.5h5M98 325.5h1M99 324.5h2M100.5 321v4M98 320.5h1M99 321.5h2M94 320.5h5M94.5 320v1M93.5 321v1M93.5 321v4M93.5 324v1M94.5 325v1M87.5 312v7M87 312.5h1M88 313.5h4M92 314.5h4M96 315.5h4M100 316.5h1M87 307.5h2M89 308.5h3M92 309.5h3M95 310.5h2M96.5 305v6M93 306.5h8M87.5 298v4M87 298.5h1M88 297.5h2M89 297.5h10M98 297.5h1M99 298.5h2M100.5 298v4M98 302.5h1M99 301.5h2M89 302.5h10M87 301.5h1M88 302.5h2" stroke="#ffffff"/>
<path d="M290 635.5L654 635.5" stroke="#00ff00"/>
<path d="M290 642.5L654 642.5" stroke="#00ff00"/>
<path d="M306.5 585v13M306.5 597v2M305.5 599v5M304.5 604v2M304.5 605v4M303.5 609v7M302.5 616v6M301.5 622v4M306 586.5h11M316.5 586v9M306 595.5h7M313 594.5h4M307 601.5h6M313 600.5h5M310.5 601v3M309.5 604v3M308.5 607v3M307.5 610v3M307 612.5h3M310 611.5h4M314 610.5h1M314.5 605v1M315.5 606v2M316.5 608v3M317.5 611v2M307 617.5h5M312 616.5h4M311.5 610v16M304 626.5h4M308 625.5h6M314 624.5h4M323 594.5h3M326 593.5h4M330 592.5h1M327.5 593v32M324.5 617v2M325.5 619v3M326.5 622v2M327.5 624v1M331 589.5h1M332 588.5h5M337 587.5h4M335.5 587v26M335.5 612v2M334.5 614v2M333.5 616v3M332.5 619v2M331.5 621v2M330.5 623v3M329.5 626v2M331 596.5h7M338 595.5h2M339.5 595v22M335.5 617v1M336.5 618v2M337.5 620v1M338.5 621v2M339.5 623v2M340.5 625v1M350.5 585v23M350.5 607v3M349.5 610v5M348.5 615v4M347.5 619v5M346.5 624v4M350 589.5h2M352 588.5h6M358 587.5h4M361.5 587v6M361.5 592v1M360.5 593v2M359.5 595v1M350 596.5h5M355 595.5h5M353 604.5h3M356 603.5h4M360 602.5h2M351 612.5h3M354 611.5h6M360 610.5h4M357.5 611v1M356.5 612v3M355.5 615v2M354.5 617v2M353.5 619v3M352.5 622v2M351.5 624v1M351 624.5h3M354 623.5h4M358 622.5h4M359.5 616v2M360.5 618v3M361.5 621v3M362.5 624v2" stroke="#ffffff"/>
<path d="M373.5 586v42M370 598.5h4M374 597.5h3M373.5 600v2M372.5 602v3M371.5 605v3M370.5 608v4M369.5 612v3M368.5 615v3M373.5 602v2M374.5 604v2M375.5 606v2M378.5 588v3M378 590.5h2M380 589.5h2M382 588.5h2M384 587.5h2M378.5 590v21M378.5 610v3M377.5 613v9M376.5 622v3M380 599.5h2M382 598.5h4M385.5 598v3M385.5 600v3M384.5 603v3M383.5 606v2M382.5 608v3M381.5 611v3M380.5 614v3M379.5 617v3M378.5 620v3M377.5 623v2M380.5 603v2M381.5 605v3M383.5 611v3M384.5 614v3M385.5 617v3M386.5 620v2M387.5 622v1M392 589.5h4M396 588.5h4M400 587.5h4M404 586.5h3M395.5 594v3M396.5 597v5M405.5 592v3M404.5 595v5M403.5 600v4M403 603.5h7M391 607.5h3M394 606.5h6M400 605.5h3M400.5 587v41M415.5 589v1M416.5 590v2M417.5 592v1M418.5 593v2M413.5 600v2M414.5 602v3M415.5 605v2M418.5 600v4M417.5 604v7M417.5 610v2M416.5 612v6M415.5 618v6M414.5 624v3M413.5 622v3M414.5 625v2M425.5 586v23M419 598.5h13M417 610.5h5M422 609.5h6M428 608.5h4M424.5 609v3M423.5 612v4M422.5 616v3M421.5 619v4M420.5 623v3M420 625.5h1M421 624.5h8M429 623.5h1M427.5 616v3M428.5 619v3M429.5 622v3M430.5 625v2" stroke="#ffffff"/>
<path d="M440.5 584v4M441.5 588v4M435 597.5h3M438 596.5h4M442 595.5h3M440.5 597v4M439.5 601v5M439.5 605v2M438.5 607v6M437.5 613v5M436.5 618v6M435.5 624v3M439 603.5h5M443.5 603v8M443.5 610v5M442.5 615v8M441.5 623v4M439 624.5h1M440 625.5h1M441 626.5h1M448.5 584v5M447.5 589v5M444 595.5h4M448 594.5h6M445.5 597v6M442 611.5h1M443 610.5h2M445 609.5h1M446 608.5h2M448 607.5h1M449 606.5h2M451 605.5h1M452 604.5h1M452.5 604v9M452.5 612v2M451.5 614v3M450.5 617v2M450.5 596v25M446.5 603v25M446 627.5h9M454.5 617v11M461 594.5h2M463 593.5h7M470 592.5h5M468.5 593v8M467.5 601v20M458 620.5h9M467 619.5h11M483.5 586v41M483 590.5h3M486 589.5h5M491 588.5h5M496 587.5h2M497.5 587v39M483 623.5h7M490 622.5h8M490.5 592v2M489.5 594v2M488.5 596v2M487.5 598v2M486.5 600v2M485.5 602v2M489 596.5h4M493 595.5h1M493.5 595v2M492.5 597v2M491.5 599v2M490.5 601v1M489.5 602v2M488.5 604v2M487.5 606v2M486.5 608v1M485.5 609v2M484.5 611v2M487.5 600v1M488.5 601v1M489.5 602v1M490.5 603v1M491.5 604v1M492.5 605v2M493.5 607v1M494.5 608v1M495.5 609v2M489.5 610v1M490.5 611v2M491.5 613v1M488.5 615v2M489.5 617v1M490.5 618v1M491.5 619v2" stroke="#ffffff"/>
<path d="M235.5 647v3M236.5 650v3M232 657.5h5M236.5 655v5M235.5 660v11M235 670.5h1M236 669.5h1M237 668.5h1M238 667.5h2M239.5 647v3M240.5 650v2M243.5 645v4M242.5 649v2M239.5 653v8M239 653.5h5M243.5 653v6M239 660.5h1M240 659.5h3M243 658.5h1M240.5 660v2M239.5 662v3M238.5 665v3M237.5 668v2M236.5 670v3M242.5 660v12M242 671.5h4M245.5 665v7M248.5 648v18M248 649.5h4M251.5 649v16M248 656.5h4M248 664.5h2M250 663.5h2M254.5 645v20M254.5 664v2M253.5 666v1M252.5 667v2M251.5 669v2M250.5 671v2M254 647.5h4M257.5 647v26M254 654.5h4M254 660.5h4" stroke="#c060a8"/>
<rect x="263" y="658" width="2" height="2" fill="#c060a8" stroke="none"/>
<rect x="263" y="669" width="2" height="2" fill="#c060a8" stroke="none"/>
<path d="M145.5 59v13M145 71.5h6M150.5 59v13M145 59.5h6M147.5 59v4M146.5 63v5M148.5 59v9M148 67.5h3M156.5 57v1M155.5 58v1M154.5 59v2M153.5 61v1M155 59.5h5M154.5 61v9M154.5 69v2M153.5 71v3M154 61.5h6M159.5 61v13M154 65.5h6M154 69.5h6M156.5 61v13M162.5 58v11M161 62.5h4M161 70.5h1M162 69.5h2M164 68.5h1M165.5 57v4M164.5 61v2M165 61.5h3M167.5 61v13M166 72.5h1M167 73.5h1M165 64.5h1M166 65.5h1M164 69.5h1M165 68.5h1M166 67.5h2M170.5 58v16M170 58.5h6M175.5 58v16M174 72.5h1M175 73.5h1M171 62.5h4M172.5 65v5M172 69.5h3M174.5 65v5M172 65.5h3M139.5 80v16M139 80.5h3M141.5 80v1M140.5 81v5M140.5 85v3M141.5 88v2M141.5 89v1M140.5 90v1M142.5 80v4M141.5 84v2M142.5 84v12M143 85.5h3M144.5 80v17M143.5 95v1M144.5 96v1M143.5 89v3M149.5 81v9M149.5 89v1M148.5 90v4M147.5 94v2M147 85.5h5M151.5 85v10M149 93.5h1M150 94.5h2M151.5 86v9M151 94.5h3M153.5 86v9M151 86.5h3M155 83.5h4M155.5 83v5M154.5 88v2M154 89.5h3M157 88.5h1M157.5 88v1M158.5 89v2M159.5 90v1M158.5 91v5M155 96.5h3M158 95.5h1M166.5 83v13M162 87.5h1M163 86.5h1M164 85.5h1M162.5 87v5M162.5 91v1M163.5 92v2M164 94.5h3M166 94.5h1M167 93.5h2M169.5 91v2M168.5 93v1M169.5 88v4M168.5 85v2M169.5 87v2M166 85.5h3M164 85.5h3M165.5 85v10M166.5 85v10M164 93.5h4M164 94.5h4M172.5 83v1M171.5 84v2M172.5 83v13M176.5 83v1M175.5 84v2M175.5 85v10M175.5 94v1M176.5 95v2M179.5 94v1M178.5 95v1M177.5 96v1M179.5 89v6M179.5 85v5M178.5 83v2M179.5 85v1M176 83.5h3" stroke="#ffff00"/>
</g>
<rect x="566.4" y="441.3" width="245.3" height="186" rx="1.2" fill="none" stroke="#fa5252" stroke-width="5.3"/>
</svg>
</body></html>
